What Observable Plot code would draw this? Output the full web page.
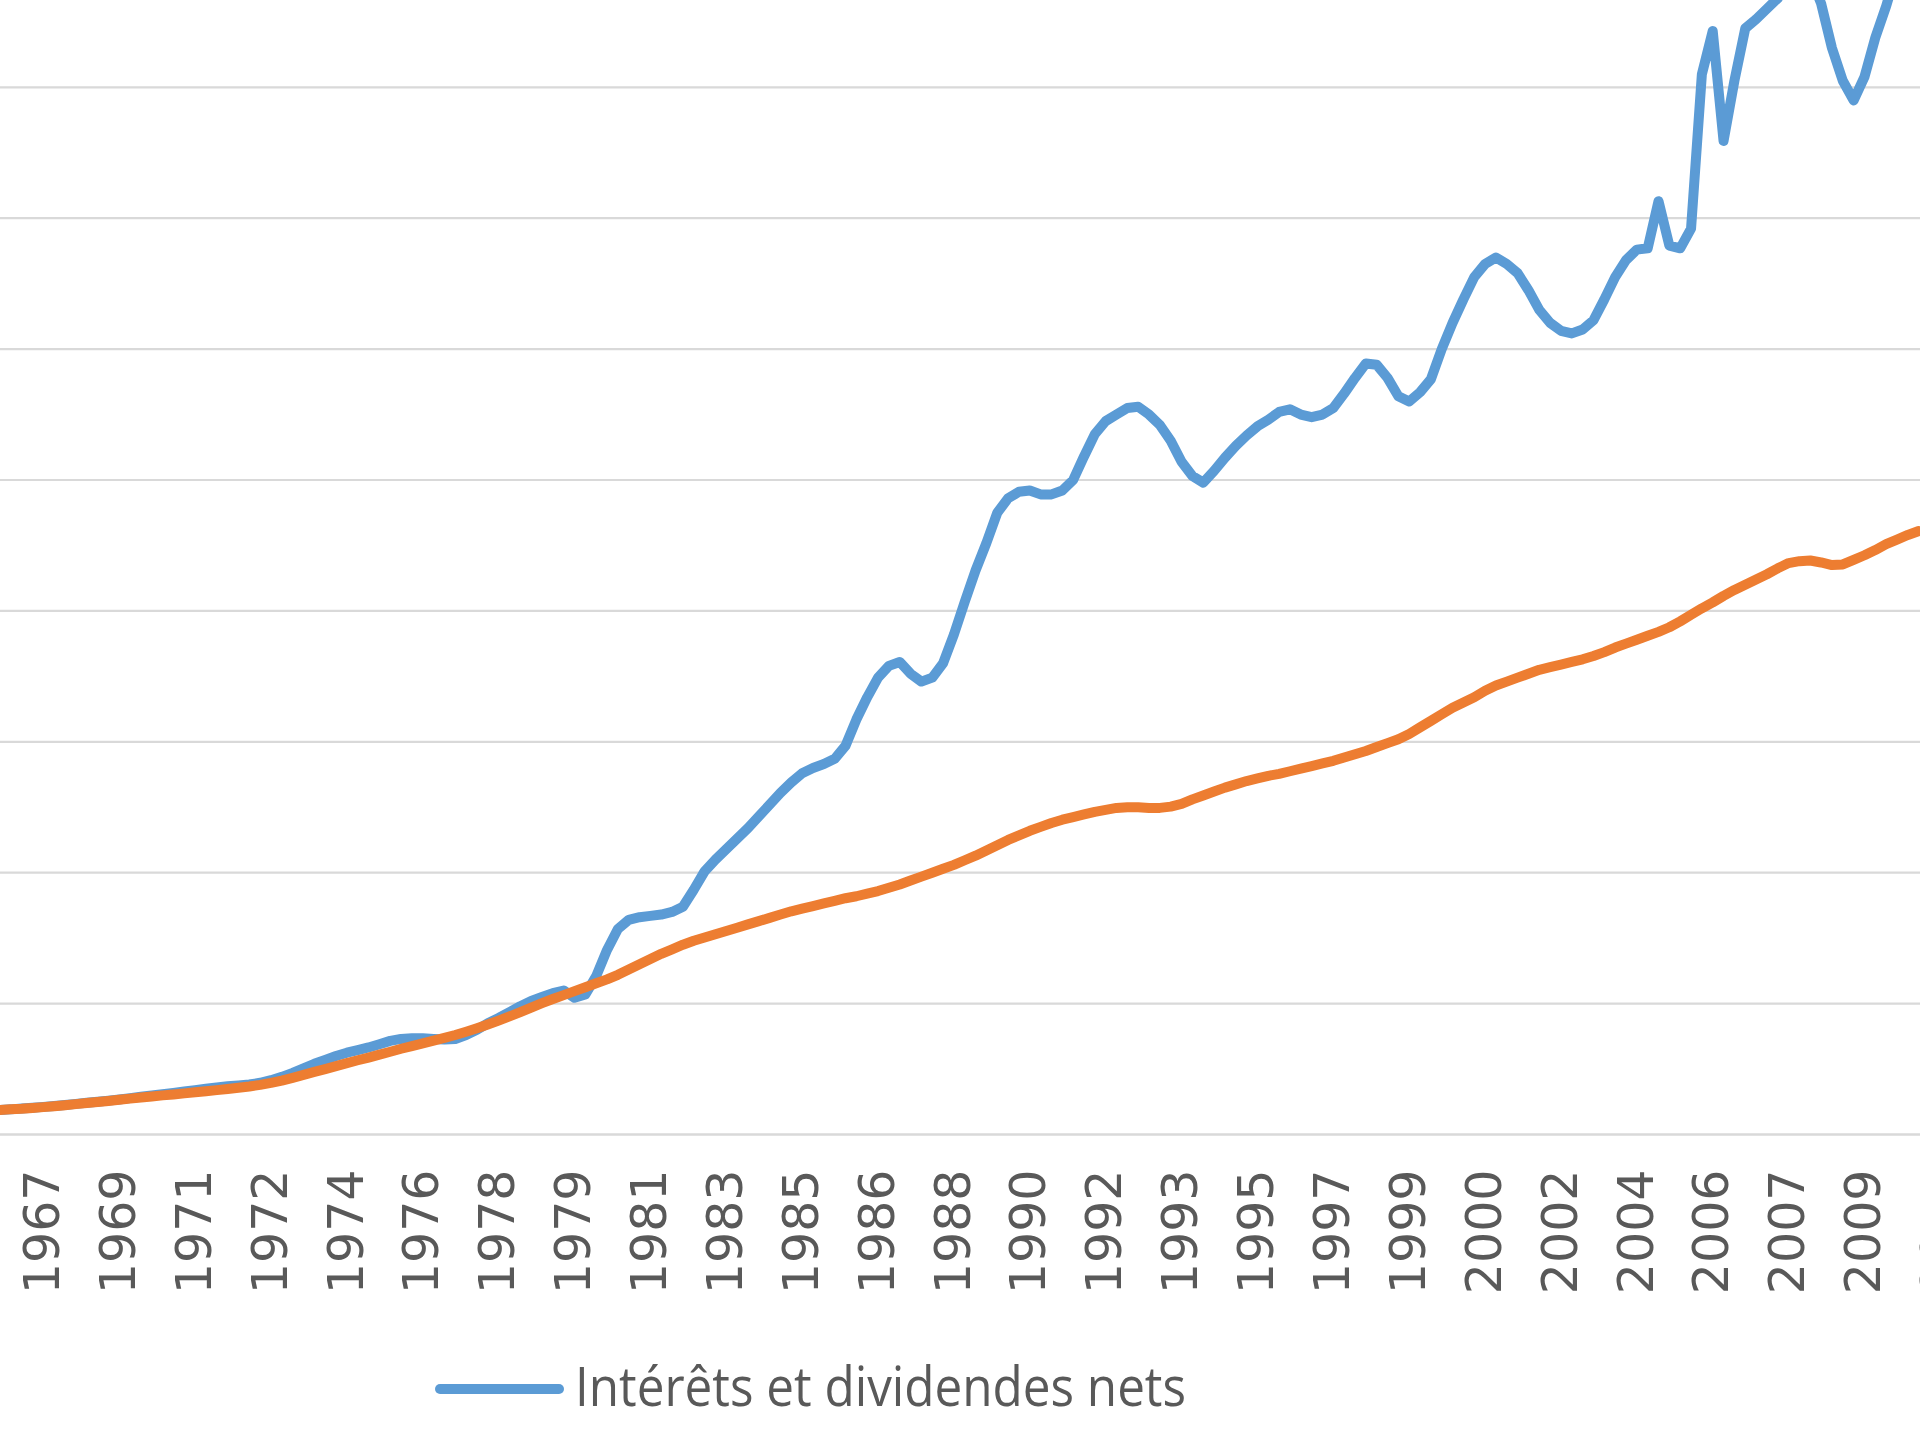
<!DOCTYPE html>
<html>
<head>
<meta charset="utf-8">
<script src="https://cdn.jsdelivr.net/npm/d3@7"></script>
<script src="https://cdn.jsdelivr.net/npm/@observablehq/plot@0.6"></script>
<style>
  html, body { margin: 0; padding: 0; background: #ffffff; overflow: hidden; }
  #page { position: relative; width: 1920px; height: 1440px; overflow: hidden; background: #ffffff; }
  #page svg { display: block; }
</style>
</head>
<body>
<div id="page"></div>
<script>
// ---- Data (quarterly, first point = 1966 T3) ----
const firstYear = 1966;
const firstQuarter = 3;

const seriesNames = ["Intérêts et dividendes nets", "Série 2"];
const seriesColors = ["#5B9BD5", "#ED7D31"];

const interetsDividendes = [
  18.8, 19.2,
  19.8, 20.4, 21.1, 21.8,
  22.6, 23.4, 24.2, 25.0,
  25.9, 26.8, 27.8, 28.8,
  29.8, 30.8, 31.8, 32.8,
  33.9, 35.0, 36.0, 36.8,
  37.5, 38.2, 39.5, 41.5,
  44.0, 47.0, 50.5, 54.0,
  57.0, 60.0, 62.5, 64.5,
  66.5, 69.0, 71.5, 73.0,
  73.5, 73.5, 73.0, 72.5,
  73.0, 76.0, 80.0, 85.0,
  89.0, 93.5, 98.0, 102.0,
  105.0, 108.0, 110.0, 104.5,
  107.0, 121.0, 141.0, 157.0,
  164.0, 166.0, 167.0, 168.0,
  170.0, 174.0, 187.0, 201.0,
  210.0, 218.0, 226.0, 234.0,
  243.0, 252.0, 261.0, 269.0,
  276.0, 280.0, 283.0, 287.0,
  297.0, 317.0, 334.0, 349.0,
  358.0, 361.0, 352.0, 346.0,
  349.0, 360.0, 382.0, 407.0,
  431.0, 452.0, 475.0, 486.0,
  491.0, 492.0, 489.0, 489.0,
  492.0, 500.0, 518.0, 535.0,
  545.0, 550.0, 555.0, 556.0,
  550.0, 542.0, 530.0, 514.0,
  503.0, 498.0, 507.0, 517.0,
  526.0, 534.0, 541.0, 546.0,
  552.0, 554.0, 550.0, 548.0,
  550.0, 555.0, 566.0, 578.0,
  589.0, 588.0, 578.0, 564.0,
  560.0, 567.0, 577.0, 600.0,
  620.0, 638.0, 655.0, 665.0,
  670.0, 665.0, 658.0, 645.0,
  630.0, 620.0, 614.0, 612.0,
  615.0, 622.0, 638.0, 655.0,
  668.0, 676.0, 677.0, 713.0,
  679.0, 677.0, 692.0, 810.0,
  843.0, 759.0, 805.0, 845.0,
  852.0, 860.0, 868.0, 880.0,
  890.0, 885.0, 864.0, 830.0,
  805.0, 790.0, 808.0, 838.0,
  862.0, 890.0, 910.0, 930.0
];

const serie2 = [
  18.8, 19.2,
  19.6, 20.2, 20.9, 21.6,
  22.4, 23.2, 24.0, 24.8,
  25.6, 26.5, 27.4, 28.3,
  29.1, 29.9, 30.6, 31.4,
  32.2, 33.0, 33.9, 34.8,
  35.7, 36.7, 37.9, 39.4,
  41.2, 43.3, 45.5, 47.8,
  50.0, 52.2, 54.5, 56.7,
  58.8, 61.0, 63.2, 65.5,
  67.5, 69.6, 71.7, 73.8,
  76.0, 78.5, 81.2, 84.0,
  87.0, 90.2, 93.5, 97.0,
  100.3, 103.5, 106.5, 109.5,
  112.5, 115.5, 118.5, 122.0,
  126.0, 130.0, 134.0, 138.0,
  141.5, 145.0, 148.0, 150.5,
  153.0, 155.5, 158.0, 160.5,
  163.0, 165.5, 168.0, 170.5,
  172.5, 174.5, 176.5, 178.5,
  180.5, 182.0, 184.0, 186.0,
  188.5, 191.0, 194.0, 197.0,
  200.0, 203.0, 206.0, 209.5,
  213.0, 217.0, 221.0, 225.0,
  228.5, 232.0, 235.0, 238.0,
  240.5, 242.5, 244.5, 246.5,
  248.0, 249.5, 250.0, 250.0,
  249.5, 249.5, 250.5, 252.5,
  256.0, 259.0, 262.0, 265.0,
  267.5, 270.0, 272.0, 274.0,
  275.5, 277.5, 279.5, 281.5,
  283.5, 285.5, 288.0, 290.5,
  293.0, 296.0, 299.0, 302.0,
  306.0, 311.0, 316.0, 321.0,
  326.0, 330.0, 334.0, 339.0,
  343.0, 346.0, 349.0, 352.0,
  355.0, 357.0, 359.0, 361.0,
  363.0, 365.5, 368.5, 372.0,
  375.0, 378.0, 381.0, 384.0,
  387.5, 392.0, 397.0, 402.0,
  406.5, 411.5, 416.0, 420.0,
  424.0, 428.0, 432.5, 436.5,
  438.0, 438.5, 437.0, 435.0,
  435.5, 439.0, 442.5, 446.5,
  451.0, 454.5, 458.0, 461.0
];

// category-axis labels: one every 7 quarters, starting with the 5th quarter (1967 T3)
const tickLabels = ["1967","1969","1971","1972","1974","1976","1978","1979","1981","1983",
  "1985","1986","1988","1990","1992","1993","1995","1997","1999","2000","2002","2004",
  "2006","2007","2009","2011"];
const tickFirstIndex = 4;
const tickStep = 7;

const gridValues = [100, 200, 300, 400, 500, 600, 700, 800];

// ---- Build tables ----
const t0 = firstYear + (firstQuarter - 1) / 4;
const quarterT = i => t0 + i / 4;
const rows = [];
[interetsDividendes, serie2].forEach((vals, s) => {
  vals.forEach((v, i) => rows.push({ t: quarterT(i), v, serie: seriesNames[s] }));
});
const ticks = tickLabels.map((label, k) => ({ t: quarterT(tickFirstIndex + k * tickStep), label }));

// ---- Layout (the reference is a crop of a larger chart) ----
const W = 1920, H = 1300, plotBottom = 1134;
const pxPerYear = 43.36, firstTickPx = 42.86;
const xMin = ticks[0].t - firstTickPx / pxPerYear;
const xMax = xMin + W / pxPerYear;
const yMax = plotBottom / 130.9 * 100;

const chart = Plot.plot({
  width: W,
  height: H,
  marginLeft: 0,
  marginRight: 0,
  marginTop: 0,
  marginBottom: H - plotBottom,
  style: { fontFamily: "DejaVu Sans", background: "#ffffff", overflow: "hidden" },
  x: { type: "linear", domain: [xMin, xMax], axis: null },
  y: { domain: [0, yMax], axis: null },
  color: { domain: seriesNames, range: seriesColors },
  marks: [
    Plot.gridY(gridValues, { stroke: "#d9d9d9", strokeOpacity: 1, strokeWidth: 2.2 }),
    Plot.ruleY([0], { stroke: "#d9d9d9", strokeOpacity: 1, strokeWidth: 2.5 }),
    Plot.text(ticks, {
      x: "t",
      text: "label",
      frameAnchor: "bottom",
      dy: 35,
      rotate: -90,
      textAnchor: "end",
      lineAnchor: "middle",
      fontSize: 49,
      fill: "#595959"
    }),
    Plot.line(rows.filter(r => r.serie === seriesNames[0]), {
      x: "t", y: "v", stroke: "serie", strokeWidth: 10, strokeLinejoin: "round", strokeLinecap: "round", clip: true
    }),
    Plot.line(rows.filter(r => r.serie === seriesNames[1]), {
      x: "t", y: "v", stroke: "serie", strokeWidth: 10, strokeLinejoin: "round", strokeLinecap: "round", clip: true
    })
  ]
});
document.getElementById("page").appendChild(chart);

// ---- Legend (below the SVG) ----
const legend = d3.create("svg")
  .attr("width", W)
  .attr("height", 1440 - H)
  .style("display", "block");
legend.append("line")
  .attr("x1", 440).attr("x2", 559)
  .attr("y1", 89).attr("y2", 89)
  .attr("stroke", seriesColors[0])
  .attr("stroke-width", 10)
  .attr("stroke-linecap", "round");
legend.append("text")
  .attr("x", 575).attr("y", 106)
  .attr("font-family", "Open Sans")
  .attr("font-size", 55)
  .attr("fill", "#595959")
  .attr("textLength", 611)
  .attr("lengthAdjust", "spacingAndGlyphs")
  .text(seriesNames[0]);
document.getElementById("page").appendChild(legend.node());
</script>
</body>
</html>
